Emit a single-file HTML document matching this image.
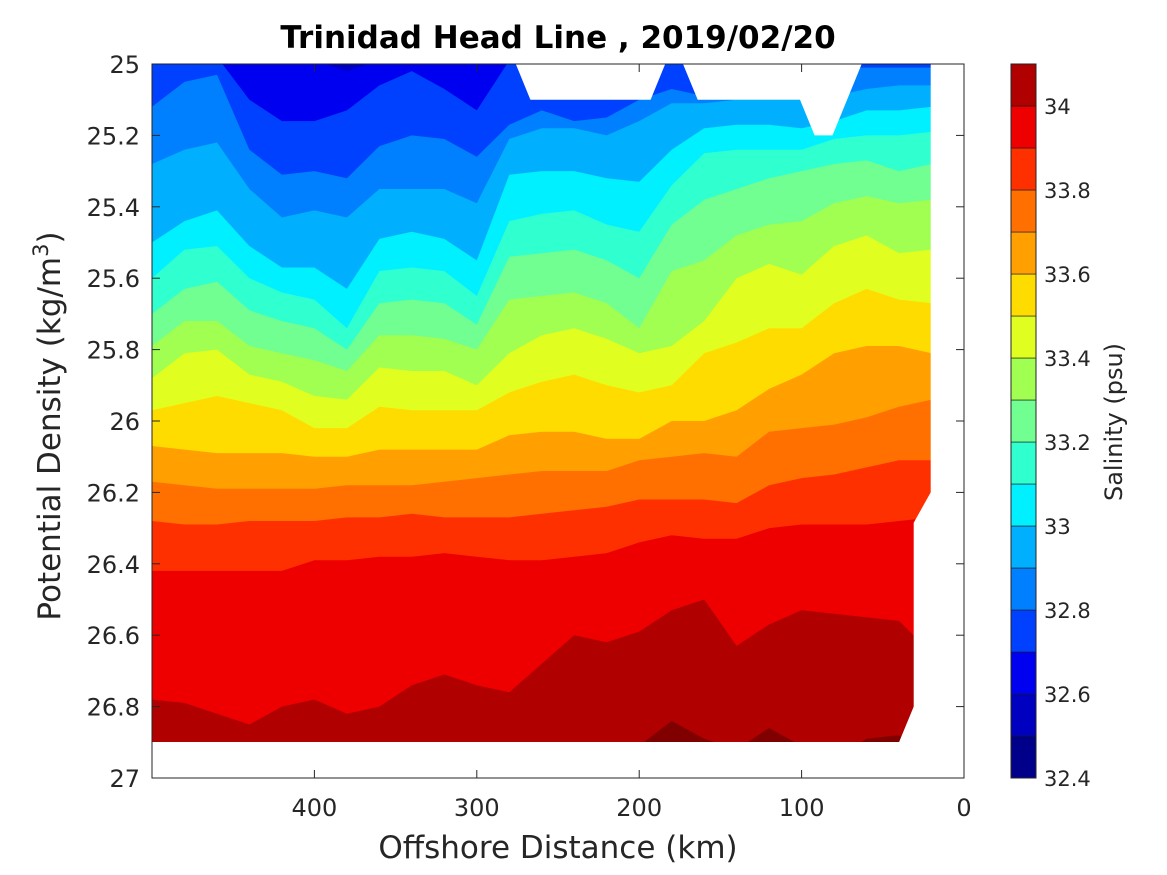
<!DOCTYPE html>
<html><head><meta charset="utf-8"><style>
body{margin:0;background:#fff;}
svg{display:block;font-family:"DejaVu Sans","Liberation Sans",sans-serif;}
</style></head><body>
<svg id="chart" width="1167" height="875" viewBox="0 0 1167 875" xmlns="http://www.w3.org/2000/svg">
<defs><clipPath id="plotclip"><rect x="152" y="64" width="779" height="678"/></clipPath></defs>
<rect x="0" y="0" width="1167" height="875" fill="#fff"/>
<g id="fills" clip-path="url(#plotclip)"></g>
<g id="masks"></g>
<g id="axes"></g>
<g id="cbar"></g>
<text x="558" y="48" text-anchor="middle" font-size="31" font-weight="bold" fill="#000">Trinidad Head Line , 2019/02/20</text>
<text x="558" y="858" text-anchor="middle" font-size="31" fill="#262626">Offshore Distance (km)</text>
<text transform="translate(60,426) rotate(-90)" text-anchor="middle" font-size="31" fill="#262626">Potential Density (kg/m<tspan dy="-12" font-size="21">3</tspan><tspan dy="12">)</tspan></text>
<text transform="translate(1122,422) rotate(-90)" text-anchor="middle" font-size="24" fill="#262626">Salinity (psu)</text>
</svg>
<script>
// distances (km) of grid columns
const distances = [500,480,460,440,420,400,380,360,340,320,300,280,260,240,220,200,180,160,140,120,100,80,60,40,20];
// contour levels (psu)
const levels = [32.6,32.7,32.8,32.9,33.0,33.1,33.2,33.3,33.4,33.5,33.6,33.7,33.8,33.9,34.0,34.1];
// density (kg/m3) of each isohaline at each distance
const iso326 = [24.99,24.99,24.99,24.99,24.99,24.99,25.02,24.99,24.99,24.99,24.99,24.99,24.99,24.99,24.99,24.99,24.99,24.99,24.99,24.99,24.99,24.99,24.99,24.99,24.99];
const iso327 = [24.99,24.99,24.98,25.10,25.16,25.16,25.13,25.06,25.02,25.07,25.13,24.99,24.99,24.99,24.99,24.99,24.99,24.99,24.99,24.99,24.99,24.99,24.99,24.99,24.99];
const iso328 = [25.12,25.05,25.03,25.24,25.31,25.30,25.32,25.23,25.20,25.21,25.26,25.17,25.13,25.16,25.15,25.10,25.07,25.09,25.06,25.04,25.04,25.01,25.01,25.01,25.01];
const iso329 = [25.28,25.24,25.22,25.35,25.43,25.41,25.43,25.35,25.35,25.35,25.39,25.21,25.18,25.18,25.20,25.16,25.11,25.11,25.10,25.10,25.10,25.09,25.07,25.06,25.06];
const iso330 = [25.50,25.44,25.41,25.51,25.57,25.57,25.63,25.49,25.47,25.49,25.55,25.31,25.30,25.30,25.32,25.33,25.24,25.18,25.17,25.17,25.18,25.16,25.13,25.13,25.12];
const iso331 = [25.60,25.52,25.51,25.60,25.64,25.66,25.74,25.58,25.57,25.58,25.65,25.44,25.42,25.41,25.45,25.47,25.34,25.25,25.24,25.24,25.24,25.21,25.20,25.20,25.19];
const iso332 = [25.70,25.63,25.61,25.69,25.72,25.74,25.80,25.67,25.66,25.67,25.73,25.54,25.53,25.52,25.55,25.60,25.45,25.38,25.35,25.32,25.30,25.28,25.27,25.30,25.28];
const iso333 = [25.79,25.72,25.72,25.79,25.81,25.83,25.86,25.76,25.76,25.77,25.80,25.66,25.65,25.64,25.67,25.74,25.58,25.55,25.48,25.45,25.44,25.39,25.37,25.39,25.38];
const iso334 = [25.88,25.81,25.80,25.87,25.89,25.93,25.94,25.85,25.86,25.86,25.90,25.81,25.76,25.74,25.77,25.81,25.79,25.72,25.60,25.56,25.59,25.51,25.48,25.53,25.52];
const iso335 = [25.97,25.95,25.93,25.95,25.97,26.02,26.02,25.96,25.97,25.97,25.97,25.92,25.89,25.87,25.90,25.92,25.90,25.81,25.78,25.74,25.74,25.67,25.63,25.66,25.67];
const iso336 = [26.07,26.08,26.09,26.09,26.09,26.10,26.10,26.08,26.08,26.08,26.08,26.04,26.03,26.03,26.05,26.05,26.00,26.00,25.97,25.91,25.87,25.81,25.79,25.79,25.81];
const iso337 = [26.17,26.18,26.19,26.19,26.19,26.19,26.18,26.18,26.18,26.17,26.16,26.15,26.14,26.14,26.14,26.11,26.10,26.09,26.10,26.03,26.02,26.01,25.99,25.96,25.94];
const iso338 = [26.28,26.29,26.29,26.28,26.28,26.28,26.27,26.27,26.26,26.27,26.27,26.27,26.26,26.25,26.24,26.22,26.22,26.22,26.23,26.18,26.16,26.15,26.13,26.11,26.11];
const iso339 = [26.42,26.42,26.42,26.42,26.42,26.39,26.39,26.38,26.38,26.37,26.38,26.39,26.39,26.38,26.37,26.34,26.32,26.33,26.33,26.30,26.29,26.29,26.29,26.28,26.27];
const iso340 = [26.78,26.79,26.82,26.85,26.80,26.78,26.82,26.80,26.74,26.71,26.74,26.76,26.68,26.60,26.62,26.59,26.53,26.50,26.63,26.57,26.53,26.54,26.55,26.56,26.65];
const iso341 = [26.95,26.95,26.95,26.95,26.95,26.95,26.95,26.95,26.95,26.95,26.95,26.95,26.95,26.95,26.95,26.91,26.84,26.89,26.92,26.86,26.91,26.95,26.89,26.88,26.95];
// colorbar bands
const cbarLevels = [32.4,32.5,32.6,32.7,32.8,32.9,33.0,33.1,33.2,33.3,33.4,33.5,33.6,33.7,33.8,33.9,34.0,34.1];
const cbarTicks = [32.4,32.6,32.8,33,33.2,33.4,33.6,33.8,34];
const xTicks = [400,300,200,100,0];
const yTicks = [25,25.2,25.4,25.6,25.8,26,26.2,26.4,26.6,26.8,27];
// missing-data regions (distance km, density)
const gap1 = [[276,25],[267,25.1],[193,25.1],[184,25]];
const gap2 = [[173,25],[164,25.1],[101,25.1],[92,25.2],[81,25.2],[63,25]];
const gapRight = [[20.5,24.99],[20.5,26.2],[31,26.285],[31,26.8],[40,26.9],[0,26.9],[0,24.99]];

const isolines = [iso326,iso327,iso328,iso329,iso330,iso331,iso332,iso333,iso334,iso335,iso336,iso337,iso338,iso339,iso340,iso341];
const colors = ['#00008a','#0000c0','#0000f0','#0040ff','#0080ff','#00b0ff','#00f0ff','#30ffd0','#70ff90','#a0ff50','#e0ff20','#ffdc00','#ffa000','#ff7000','#ff3000','#ee0000','#b00000','#800000'];

const NS='http://www.w3.org/2000/svg';
const xS = d => 964 - d*1.624;
const yS = s => 64 + (s-25)*357;
const cS = v => 778 - (v-32.4)*(714/1.7);
function mk(tag, attrs, parent){const e=document.createElementNS(NS,tag);for(const k in attrs)e.setAttribute(k,attrs[k]);parent.appendChild(e);return e;}

const fills=document.getElementById('fills');
let base=mk('rect',{x:152,y:64,width:779,height:678,fill:colors[1]},fills);


isolines.forEach((iso,k)=>{
  const n=distances.length;
  let pts=[(xS(distances[0])-5)+','+yS(iso[0]).toFixed(1)];
  distances.forEach((d,i)=>pts.push(xS(d).toFixed(1)+','+yS(iso[i]).toFixed(1)));
  pts.push((xS(distances[n-1])+5)+','+yS(iso[n-1]).toFixed(1));
  pts.push((xS(distances[n-1])+5)+',800');
  pts.push((xS(distances[0])-5)+',800');
  const p=mk('polygon',{points:pts.join(' '),fill:colors[k+2]},fills);
  
  
});
const masks=document.getElementById('masks');
[gap1,gap2,gapRight].forEach((g,i)=>{
  const p=mk('polygon',{points:g.map(q=>xS(q[0]).toFixed(1)+','+yS(q[1]).toFixed(1)).join(' '),fill:'#fff'},masks);
  
  
});
const bm=mk('rect',{x:152,y:yS(26.9),width:812,height:778-yS(26.9),fill:'#fff'},masks);



const axes=document.getElementById('axes');
const box=mk('rect',{x:152,y:64,width:812,height:714,fill:'none',stroke:'#262626','stroke-width':1},axes);


xTicks.forEach(t=>{
  const x=xS(t);
  mk('line',{x1:x,y1:778,x2:x,y2:770,stroke:'#262626'},axes);
  mk('line',{x1:x,y1:64,x2:x,y2:72,stroke:'#262626'},axes);
  const tx=mk('text',{x:x,y:816,'text-anchor':'middle','font-size':24,fill:'#262626'},axes);
  tx.textContent=t;
  
  
});
yTicks.forEach(t=>{
  const y=yS(t);
  mk('line',{x1:152,y1:y,x2:160,y2:y,stroke:'#262626'},axes);
  mk('line',{x1:964,y1:y,x2:956,y2:y,stroke:'#262626'},axes);
  const tx=mk('text',{x:140,y:y+9,'text-anchor':'end','font-size':24,fill:'#262626'},axes);
  tx.textContent=String(Math.round(t*10)/10);
  
  
});
const cbar=document.getElementById('cbar');
for(let i=0;i<cbarLevels.length-1;i++){
  const y1=cS(cbarLevels[i+1]), y0=cS(cbarLevels[i]);
  const r=mk('rect',{x:1011,y:y1,width:25,height:y0-y1,fill:colors[i],stroke:'#1a1a1a','stroke-width':0.6},cbar);
  
  
}
mk('rect',{x:1011,y:64,width:25,height:714,fill:'none',stroke:'#262626'},cbar);
cbarTicks.forEach(t=>{
  const y=cS(t);
  const tx=mk('text',{x:1044,y:y+8,'font-size':21,fill:'#262626'},cbar);
  tx.textContent=String(Math.round(t*10)/10);
  
  
});
</script>
</body></html>
